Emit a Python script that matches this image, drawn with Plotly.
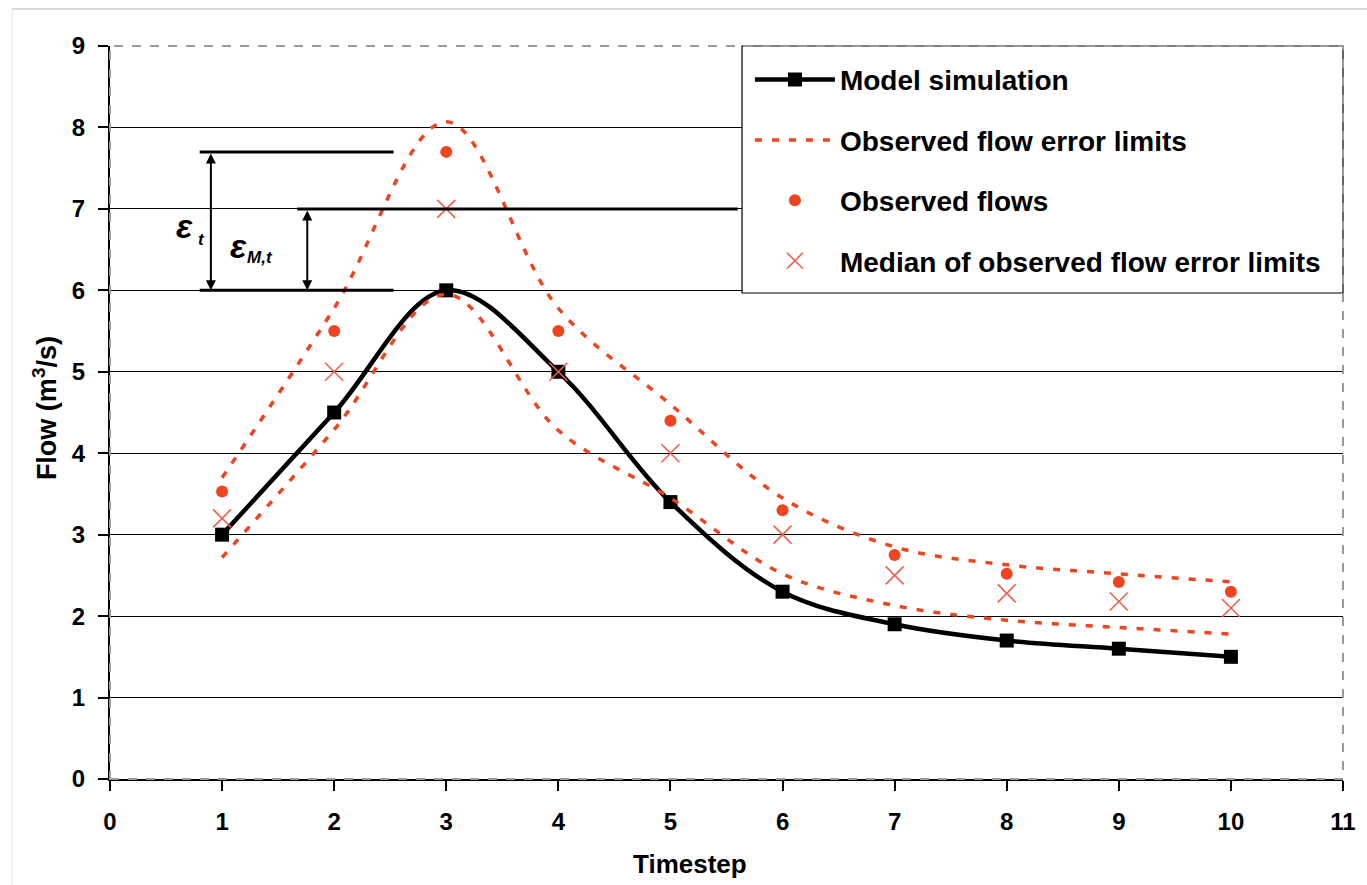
import plotly.graph_objects as go

# ---- data ----
timesteps = [1, 2, 3, 4, 5, 6, 7, 8, 9, 10]
model_sim = [3.0, 4.5, 6.0, 5.0, 3.4, 2.3, 1.9, 1.7, 1.6, 1.5]
obs_flows = [3.53, 5.5, 7.7, 5.5, 4.4, 3.3, 2.75, 2.52, 2.42, 2.3]
median_limits = [3.2, 5.0, 7.0, 5.0, 4.0, 3.0, 2.5, 2.28, 2.18, 2.1]
upper_limit = [3.7, 5.78, 8.07, 5.78, 4.6, 3.45, 2.85, 2.63, 2.52, 2.42]
lower_limit = [2.72, 4.29, 5.95, 4.28, 3.45, 2.52, 2.13, 1.95, 1.86, 1.78]
x_ticks = list(range(0, 12))
y_ticks = list(range(0, 10))

FONT = "Liberation Sans, Arial, sans-serif"
RED = "#EE4420"
XRED = "#F0604C"

fig = go.Figure()

fig.add_trace(go.Scatter(
    x=timesteps, y=model_sim, mode="lines+markers", name="Model simulation",
    line=dict(color="black", width=4.5, shape="spline", smoothing=1.0),
    marker=dict(symbol="square", size=14, color="black"),
    legendgroup="a"))
fig.add_trace(go.Scatter(
    x=timesteps, y=upper_limit, mode="lines", name="Observed flow error limits",
    line=dict(color=RED, width=3.5, dash="7px,10px", shape="spline", smoothing=1.0),
    legendgroup="b"))
fig.add_trace(go.Scatter(
    x=timesteps, y=lower_limit, mode="lines", name="Observed flow error limits",
    line=dict(color=RED, width=3.5, dash="7px,10px", shape="spline", smoothing=1.0),
    legendgroup="b", showlegend=False))
fig.add_trace(go.Scatter(
    x=timesteps, y=obs_flows, mode="markers", name="Observed flows",
    marker=dict(symbol="circle", size=12, color=RED),
    legendgroup="c"))
fig.add_trace(go.Scatter(
    x=timesteps, y=median_limits, mode="markers", name="Median of observed flow error limits",
    marker=dict(symbol="x-thin", size=18, color=XRED, line=dict(color=XRED, width=1.6)),
    legendgroup="d"))

# ---- epsilon annotation construction (derived from data at t=3) ----
i3 = 2
y_obs, y_med, y_mod = obs_flows[i3], median_limits[i3], model_sim[i3]
shapes = []
# legend box
shapes.append(dict(type="rect", xref="paper", yref="paper", x0=0.5126, x1=1.0,
                   y0=0.663, y1=1.0, line=dict(color="black", width=1.2),
                   fillcolor="white", layer="above"))
# plot border dashed gray
shapes.append(dict(type="rect", xref="paper", yref="paper", x0=0, x1=1, y0=0, y1=1,
                   line=dict(color="#9a9a9a", width=2, dash="dash"), layer="above"))
# page frame
shapes.append(dict(type="line", xref="paper", yref="paper", x0=-0.0795, x1=1.03,
                   y0=1.0505, y1=1.0505, line=dict(color="#cfcfcf", width=1.5)))
shapes.append(dict(type="line", xref="paper", yref="paper", x0=-0.0795, x1=-0.0795,
                   y0=-0.15, y1=1.0505, line=dict(color="#f0f0f0", width=1.5)))
# horizontal guide lines
for yy, xa, xb in [(y_obs, 0.8, 2.53), (y_med, 1.67, 5.6), (y_mod, 0.8, 2.53)]:
    shapes.append(dict(type="line", xref="x", yref="y", x0=xa, x1=xb, y0=yy, y1=yy,
                       line=dict(color="black", width=3), layer="above"))

annotations = []
for xx, ya, yb in [(0.9, y_obs, y_mod), (1.76, y_med, y_mod)]:
    annotations.append(dict(x=xx, y=yb, ax=xx, ay=ya, xref="x", yref="y",
                            axref="x", ayref="y", text="", showarrow=True,
                            arrowhead=2, startarrowhead=2, arrowside="end+start",
                            arrowsize=1, arrowwidth=2, arrowcolor="black",
                            standoff=0, startstandoff=0))
annotations += [
    dict(x=0.669, y=6.79, xref="x", yref="y", text="<b><i>ε</i></b>", showarrow=False,
         font=dict(family=FONT, size=34, color="black")),
    dict(x=0.812, y=6.62, xref="x", yref="y", text="<b><i>t</i></b>", showarrow=False,
         font=dict(family=FONT, size=17, color="black")),
    dict(x=1.142, y=6.54, xref="x", yref="y", text="<b><i>ε</i></b>", showarrow=False,
         font=dict(family=FONT, size=34, color="black")),
    dict(x=1.338, y=6.40, xref="x", yref="y", text="<b><i>M,t</i></b>", showarrow=False,
         font=dict(family=FONT, size=17, color="black")),
    dict(x=0.4704, y=-0.116, xref="paper", yref="paper", text="<b>Timestep</b>",
         xanchor="center", yanchor="middle",
         showarrow=False, font=dict(family=FONT, size=26, color="black")),
    dict(x=-0.0527, y=0.506, xref="paper", yref="paper", text="<b>Flow (m<sup>3</sup>/s)</b>",
         xanchor="center", yanchor="middle",
         showarrow=False, textangle=-90, font=dict(family=FONT, size=27, color="black")),
]

fig.update_layout(
    width=1367, height=885,
    margin=dict(l=110, r=24, t=46, b=106),
    paper_bgcolor="white", plot_bgcolor="white",
    font=dict(family=FONT, size=23, color="black"),
    shapes=shapes, annotations=annotations,
    legend=dict(x=0.519, y=0.988, xanchor="left", yanchor="top",
                bgcolor="rgba(0,0,0,0)", borderwidth=0,
                font=dict(family=FONT, size=28, color="black", weight="bold"),
                itemwidth=80, tracegroupgap=21, traceorder="grouped"),
    showlegend=True,
)
fig.update_xaxes(range=[0, 11], tickvals=x_ticks, ticktext=[str(v) for v in x_ticks],
                 showgrid=False, zeroline=False, showline=True, linecolor="black",
                 linewidth=2, ticks="outside", ticklen=10, tickwidth=2, tickcolor="black",
                 tickfont=dict(family=FONT, size=24, color="black", weight="bold"),
                 ticklabelstandoff=10)
fig.update_yaxes(range=[0, 9], tickvals=y_ticks, ticktext=[str(v) for v in y_ticks],
                 showgrid=True, gridcolor="black", gridwidth=1.3, zeroline=False,
                 showline=True, linecolor="black", linewidth=2, ticks="outside",
                 ticklen=10, tickwidth=2, tickcolor="black",
                 tickfont=dict(family=FONT, size=24, color="black", weight="bold"),
                 ticklabelstandoff=8)

fig.write_html("out.html")
